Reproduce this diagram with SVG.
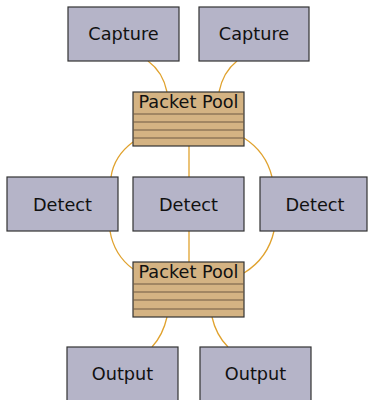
<svg xmlns="http://www.w3.org/2000/svg" width="368" height="400" viewBox="0 0 368 400">
<style>
.box{fill:#b5b4c8;stroke:#333;stroke-width:1.2}
.pool{fill:#d4b383;stroke:#333;stroke-width:1.2}
.pl{stroke:#6e5a44;stroke-width:1.2}
.lbl{font-family:"DejaVu Sans",sans-serif;font-size:17.7px;fill:#111;text-anchor:middle}
.c{fill:none;stroke:#e0a22e;stroke-width:1.3}
</style>
<rect width="368" height="400" fill="#fff"/>
<g id="connectors">
<path class="c" d="M148,61 Q163,72 167,92"/>
<path class="c" d="M237,61 Q223,72 219,92"/>
<path class="c" d="M133,142 Q114,156 111,177"/>
<path class="c" d="M244,138 Q266,152 272,177"/>
<path class="c" d="M189,146 L189,177"/>
<path class="c" d="M110,231 Q114,255 133,269"/>
<path class="c" d="M274,231 Q268,258 244,273"/>
<path class="c" d="M189,231 L189,262"/>
<path class="c" d="M167,317 Q163,335 152,347"/>
<path class="c" d="M212,317 Q216,335 228,347"/>
</g>
<g id="capture1"><rect class="box" x="68" y="7" width="111" height="54"/><text class="lbl" x="123.5" y="40">Capture</text></g>
<g id="capture2"><rect class="box" x="199" y="7" width="110" height="54"/><text class="lbl" x="254" y="40">Capture</text></g>
<g id="pool1"><rect class="pool" x="133" y="92" width="111" height="54"/>
<line class="pl" x1="133" y1="114" x2="244" y2="114"/><line class="pl" x1="133" y1="122" x2="244" y2="122"/><line class="pl" x1="133" y1="130" x2="244" y2="130"/><line class="pl" x1="133" y1="138" x2="244" y2="138"/>
<text class="lbl" x="188.5" y="108">Packet Pool</text></g>
<g id="detect1"><rect class="box" x="7" y="177" width="111" height="54"/><text class="lbl" x="62.5" y="211">Detect</text></g>
<g id="detect2"><rect class="box" x="133" y="177" width="111" height="54"/><text class="lbl" x="188.5" y="211">Detect</text></g>
<g id="detect3"><rect class="box" x="260" y="177" width="107" height="54"/><text class="lbl" x="315" y="211">Detect</text></g>
<g id="pool2"><rect class="pool" x="133" y="262" width="111" height="55"/>
<line class="pl" x1="133" y1="284" x2="244" y2="284"/><line class="pl" x1="133" y1="292" x2="244" y2="292"/><line class="pl" x1="133" y1="300" x2="244" y2="300"/><line class="pl" x1="133" y1="309" x2="244" y2="309"/>
<text class="lbl" x="188.5" y="278">Packet Pool</text></g>
<g id="output1"><rect class="box" x="67" y="347" width="111" height="56"/><text class="lbl" x="122.5" y="380">Output</text></g>
<g id="output2"><rect class="box" x="200" y="347" width="111" height="56"/><text class="lbl" x="255.5" y="380">Output</text></g>
</svg>
